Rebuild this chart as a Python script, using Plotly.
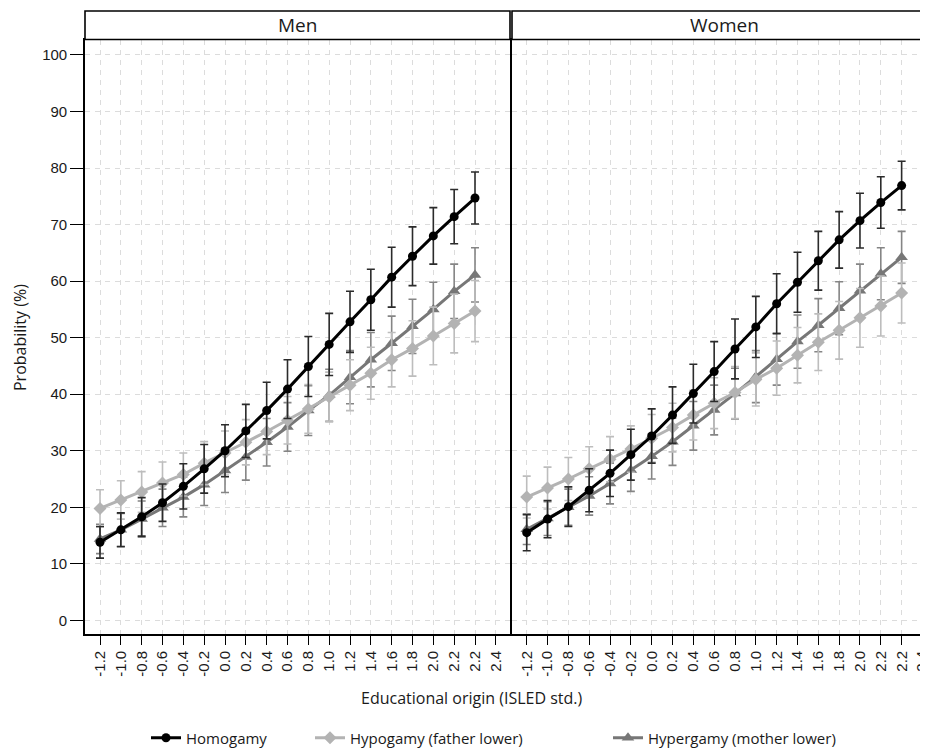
import plotly.graph_objects as go
import numpy as np

# ---------------- data ----------------
tick_labels = ["-1.2", "-1.0", "-0.8", "-0.6", "-0.4", "-0.2", "0.0", "0.2", "0.4", "0.6",
               "0.8", "1.0", "1.2", "1.4", "1.6", "1.8", "2.0", "2.2", "2.2", "2.4"]

men_homogamy = [13.8, 16.0, 18.3, 20.8, 23.7, 26.8, 30.0, 33.5, 37.1, 40.9,
                44.9, 48.8, 52.8, 56.7, 60.7, 64.4, 68.0, 71.4, 74.7]
men_homogamy_ci = [2.8, 3.0, 3.4, 3.3, 4.0, 4.3, 4.6, 4.7, 5.0, 5.2,
                   5.3, 5.5, 5.4, 5.4, 5.3, 5.2, 5.0, 4.8, 4.6]
men_hypogamy = [19.8, 21.3, 22.7, 24.3, 25.8, 27.8, 29.6, 31.5, 33.4, 35.4,
                37.4, 39.5, 41.6, 43.7, 46.1, 48.1, 50.3, 52.5, 54.7]
men_hypogamy_ci = [3.3, 3.4, 3.6, 3.7, 3.8, 3.8, 3.9, 4.0, 4.1, 4.2,
                   4.3, 4.4, 4.5, 4.6, 4.8, 4.9, 5.1, 5.2, 5.4]
men_hypergamy = [14.4, 16.0, 17.9, 19.9, 21.8, 24.0, 26.5, 28.9, 31.5, 34.2,
                 37.1, 39.8, 43.0, 46.1, 49.0, 52.0, 55.0, 58.2, 61.1]
men_hypergamy_ci = [2.6, 2.9, 3.2, 3.3, 3.5, 3.7, 3.9, 4.1, 4.2, 4.3,
                    4.4, 4.6, 4.7, 4.8, 4.8, 4.8, 4.8, 4.8, 4.8]

women_homogamy = [15.5, 17.9, 20.1, 23.0, 26.0, 29.3, 32.6, 36.3, 40.1, 44.0,
                  48.0, 51.9, 56.0, 59.8, 63.6, 67.3, 70.7, 73.9, 76.9]
women_homogamy_ci = [3.2, 3.3, 3.5, 3.8, 4.1, 4.5, 4.8, 5.0, 5.2, 5.3,
                     5.3, 5.4, 5.3, 5.3, 5.2, 5.0, 4.85, 4.55, 4.3]
women_hypogamy = [21.8, 23.4, 25.0, 26.8, 28.5, 30.3, 32.2, 34.1, 36.3, 38.4,
                  40.3, 42.6, 44.6, 46.9, 49.2, 51.3, 53.5, 55.6, 57.9]
women_hypogamy_ci = [3.7, 3.7, 3.8, 3.9, 4.0, 4.1, 4.2, 4.3, 4.4, 4.5,
                     4.6, 4.7, 4.8, 4.9, 5.0, 5.1, 5.2, 5.3, 5.3]
women_hypergamy = [16.1, 18.0, 20.0, 22.0, 24.2, 26.6, 29.0, 31.6, 34.4, 37.2,
                   40.1, 43.1, 46.2, 49.3, 52.2, 55.2, 58.3, 61.3, 64.2]
women_hypergamy_ci = [2.7, 3.0, 3.2, 3.4, 3.6, 3.8, 4.0, 4.2, 4.3, 4.4,
                      4.5, 4.6, 4.6, 4.7, 4.7, 4.7, 4.7, 4.6, 4.6]

series_names = ["Homogamy", "Hypogamy (father lower)", "Hypergamy (mother lower)"]
panel_titles = ["Men", "Women"]
y_ticks = [0, 10, 20, 30, 40, 50, 60, 70, 80, 90, 100]

# ---------------- style ----------------
FONT = "Open Sans"
TICKFONT = "Liberation Sans"
line_colors = ["#000000", "#b3b3b3", "#777777"]
err_colors = ["#2b2b2b", "#bdbdbd", "#858585"]
symbols = ["circle", "diamond", "triangle-up"]
msizes = [9, 10, 11]

# the page body has an 8px margin, so screen pixel s -> figure pixel s - 8
OFF = 8
W, H = 928, 750
ML, MR, MT, MB = 77, 0, 32, 124
PW = W - ML - MR
PH = H - MT - MB

def px_x(s):
    return (s - OFF - ML) / PW

def px_y(s):
    return (H - MB - (s - OFF)) / PH

fig = go.Figure()

panels = [
    ("x", "y", [men_homogamy, men_hypogamy, men_hypergamy],
     [men_homogamy_ci, men_hypogamy_ci, men_hypergamy_ci]),
    ("x2", "y2", [women_homogamy, women_hypogamy, women_hypergamy],
     [women_homogamy_ci, women_hypogamy_ci, women_hypergamy_ci]),
]
legend_ids = ["legend", "legend2", "legend3"]
draw_order = [2, 1, 0]
for pi, (xa, ya, vals, cis) in enumerate(panels):
    for si in draw_order:
        xs = np.arange(len(vals[si]))
        fig.add_trace(go.Scatter(
            x=xs, y=vals[si], xaxis=xa, yaxis=ya,
            mode="lines+markers",
            name=series_names[si],
            showlegend=(pi == 0),
            legend=legend_ids[si],
            line=dict(color=line_colors[si], width=3),
            marker=dict(symbol=symbols[si], size=msizes[si], color=line_colors[si],
                        line=dict(width=0)),
            error_y=dict(type="data", array=cis[si], visible=True,
                         color=err_colors[si], thickness=1.6, width=4),
        ))

tick_pos = list(range(len(tick_labels)))
x_common = dict(tickmode="array", tickvals=tick_pos, ticktext=tick_labels,
                tickangle=-90, ticks="outside", ticklen=9, tickwidth=1.3,
                tickcolor="#000", showgrid=True, gridcolor="#dcdcdc",
                griddash="5px,5px", gridwidth=1, zeroline=False,
                showline=True, linecolor="#000", linewidth=1.6, automargin=False,
                tickfont=dict(family=TICKFONT, size=15, color="#1a1a1a"))
y_common = dict(range=[-2.42, 102.65], tickmode="array", tickvals=y_ticks,
                showgrid=True, gridcolor="#dcdcdc", griddash="5px,5px", gridwidth=1,
                zeroline=False, showline=True, linecolor="#000", linewidth=1.6,
                automargin=False,
                tickfont=dict(family=TICKFONT, size=15, color="#1a1a1a"))

left_end = px_x(510)
right_start = px_x(512)

legend_common = dict(orientation="h", xanchor="left", yanchor="middle",
                     font=dict(family=FONT, size=15, color="#1a1a1a"),
                     bgcolor="rgba(0,0,0,0)", borderwidth=0)

fig.update_layout(
    width=W, height=H,
    margin=dict(l=ML, r=MR, t=MT, b=MB, autoexpand=False),
    plot_bgcolor="white", paper_bgcolor="white",
    font=dict(family=FONT, color="#1a1a1a"),
    xaxis=dict(domain=[0, left_end], range=[-0.72, 19.68], mirror=True, anchor="y",
               **x_common),
    xaxis2=dict(domain=[right_start, 1], range=[-0.706, 19.65], mirror=True, anchor="y2",
                **x_common),
    yaxis=dict(domain=[0, 1], anchor="x", ticks="outside", ticklen=13, tickwidth=1.3,
               tickcolor="#000", mirror=True, **y_common),
    yaxis2=dict(domain=[0, 1], anchor="x2", showticklabels=False, ticks="",
                mirror=True, matches="y", **y_common),
    legend=dict(x=px_x(146), y=px_y(738), **legend_common),
    legend2=dict(x=px_x(310), y=px_y(738), **legend_common),
    legend3=dict(x=px_x(608), y=px_y(738), **legend_common),
)

# strip headers
strip_y0 = px_y(39.5)
strip_y1 = px_y(11)
strips = [(0, left_end), (right_start, 1)]
for sx0, sx1 in strips:
    fig.add_shape(type="rect", xref="paper", yref="paper", x0=sx0, x1=sx1,
                  y0=strip_y0, y1=strip_y1, line=dict(color="#000", width=1.6),
                  fillcolor="white")
for (sx0, sx1), title in zip(strips, panel_titles):
    fig.add_annotation(x=(sx0 + sx1) / 2, y=(strip_y0 + strip_y1) / 2,
                       xref="paper", yref="paper",
                       text=title, showarrow=False, xanchor="center", yanchor="middle",
                       font=dict(family=FONT, size=19, color="#1a1a1a"))

# axis titles
fig.add_annotation(x=px_x(472), y=px_y(698), xref="paper", yref="paper",
                   text="Educational origin (ISLED std.)", showarrow=False,
                   xanchor="center", yanchor="middle",
                   font=dict(family=FONT, size=16, color="#1a1a1a"))
fig.add_annotation(x=px_x(20), y=px_y(338), xref="paper", yref="paper",
                   text="Probability (%)", showarrow=False, textangle=-90,
                   xanchor="center", yanchor="middle",
                   font=dict(family=FONT, size=16, color="#1a1a1a"))

fig.write_html("out.html")
